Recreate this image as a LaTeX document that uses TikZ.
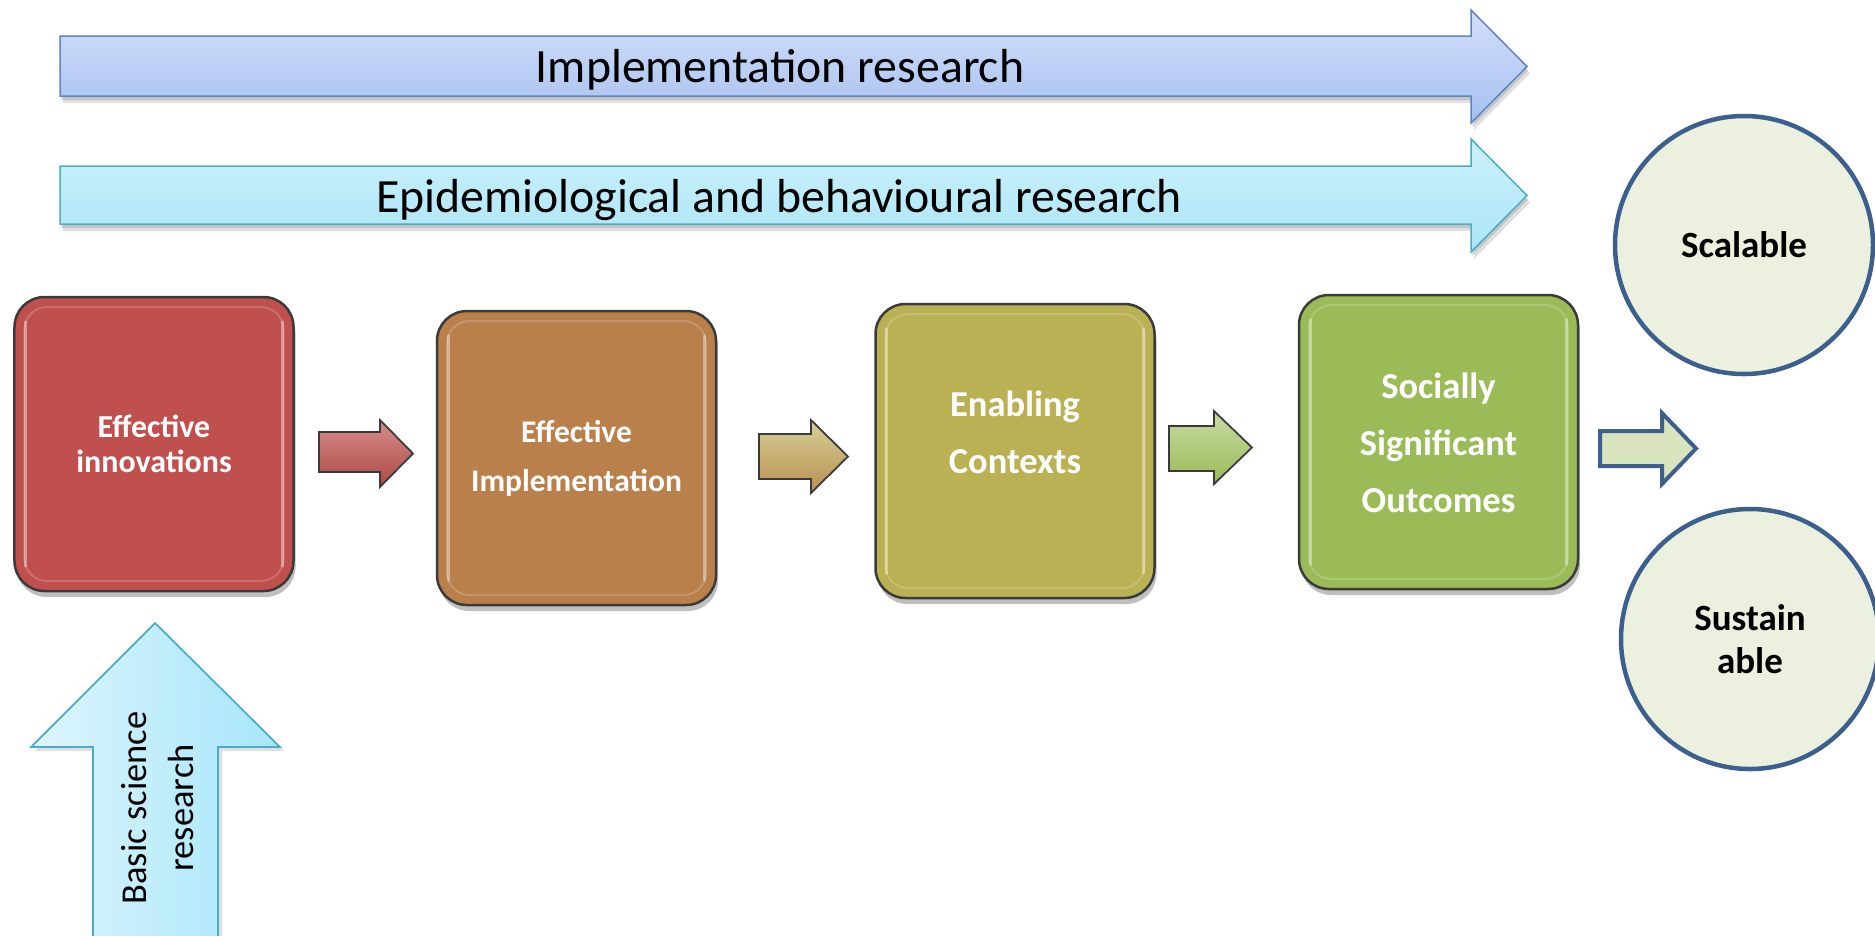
\documentclass[tikz,border=0pt]{standalone}
\usepackage{fontspec}
\setmainfont{Carlito}
\usetikzlibrary{shapes.geometric,shadows}
\definecolor{implTop}{HTML}{D3DFFA}
\definecolor{implBot}{HTML}{A6C0F0}
\definecolor{implBorder}{HTML}{5A85C8}
\definecolor{epiTop}{HTML}{CDF1FB}
\definecolor{epiBot}{HTML}{ABE5F7}
\definecolor{epiBorder}{HTML}{4BACC6}
\definecolor{basL}{HTML}{DDF5FD}
\definecolor{basR}{HTML}{A6E6FA}
\definecolor{boxA}{HTML}{C0504D}
\definecolor{boxB}{HTML}{B9804C}
\definecolor{boxC}{HTML}{BAB054}
\definecolor{boxD}{HTML}{9BBB59}
\definecolor{circFill}{HTML}{EBF1DE}
\definecolor{circBorder}{HTML}{3C5F8E}
\definecolor{arrD}{HTML}{D7E4BD}
\definecolor{edgeDark}{HTML}{3A3A3A}
% #1 style, #2 x left, #3 x head base, #4 x tip, #5 body top, #6 body bottom, #7 head top, #8 head bottom
\newcommand{\fatarr}[8]{%
  \path[#1] (#2,#5) -- (#3,#5) -- (#3,#7) -- (#4,{(#7+#8)/2}) -- (#3,#8) -- (#3,#6) -- (#2,#6) -- cycle;}
\begin{document}
\begin{tikzpicture}[x=0.4pt,y=-0.4pt,
  every node/.style={inner sep=0pt, outer sep=0pt},
  flowbox/.style={rectangle, rounded corners=12pt, minimum width=111.6pt, minimum height=117.6pt,
     draw=edgeDark, line width=1pt,
     drop shadow={shadow xshift=0.8pt, shadow yshift=-2.4pt, opacity=0.25, fill=black}},
  boxtxtS/.style={text=white, font=\bfseries\fontsize{12.6pt}{14pt}\selectfont, align=center},
  boxtxtL/.style={text=white, font=\bfseries\fontsize{14.6pt}{22.7pt}\selectfont, align=center},
  restxt/.style={text=black, font=\fontsize{19.1pt}{23pt}\selectfont},
  goal/.style={ellipse, fill=circFill, draw=circBorder, line width=1.8pt,
     text=black, font=\bfseries\fontsize{14.8pt}{17.2pt}\selectfont, align=center},
  shade1/.style={fill=black, opacity=0.12},
  gloss/.style={white, opacity=0.18, line width=0.8pt, rounded corners=9pt},
  glossline/.style={white, opacity=0.4, line width=1.3pt, line cap=round}]
\useasboundingbox (0,0) rectangle (1875,935);

% ---------- research arrows ----------
\begin{scope}[shift={(3,7)}]
  \fatarr{shade1}{60}{1471}{1527}{36}{96}{10}{123}
  \fatarr{shade1}{60}{1471}{1527}{166}{224}{139}{252}
\end{scope}
\begin{scope}[shift={(1,4)}]
  \fatarr{shade1}{60}{1471}{1527}{36}{96}{10}{123}
  \fatarr{shade1}{60}{1471}{1527}{166}{224}{139}{252}
\end{scope}
\fatarr{top color=implTop, bottom color=implBot, draw=implBorder, line width=0.6pt}{60}{1471}{1527}{36}{96}{10}{123}
\fatarr{top color=epiTop, bottom color=epiBot, draw=epiBorder, line width=0.6pt}{60}{1471}{1527}{166}{224}{139}{252}
\node[restxt] (impl) at (780,70) {Implementation research};
\node[restxt] (epi) at (779,200) {Epidemiological and behavioural research};

% ---------- basic science arrow ----------
\path[fill=black, opacity=0.12] (35,751) -- (97,751) -- (97,940) -- (222,940) -- (222,751) -- (284,751) -- (159,628) -- cycle;
\path[left color=basL, right color=basR, draw=epiBorder, line width=0.7pt]
  (31,747) -- (93,747) -- (93,940) -- (218,940) -- (218,747) -- (280,747) -- (155,623) -- cycle;
\node[rotate=90, text=black, font=\fontsize{14.6pt}{18.8pt}\selectfont, align=center] (basic) at (158,808) {Basic science\\research};

% ---------- boxes ----------
\node[flowbox, fill=boxA] (b1) at (154,444) {};
\node[flowbox, fill=boxB] (b2) at (576.5,458) {};
\node[flowbox, fill=boxC] (b3) at (1015,451) {};
\node[flowbox, fill=boxD] (b4) at (1438.5,442) {};
\foreach \b in {b1,b2,b3,b4}{
  \draw[gloss] ([shift={(4pt,4pt)}]\b.south west) rectangle ([shift={(-4pt,-4pt)}]\b.north east);
  \draw[glossline] ([shift={(4.5pt,10pt)}]\b.south west) -- ([shift={(4.5pt,-10pt)}]\b.north west);
  \draw[glossline] ([shift={(-4.5pt,10pt)}]\b.south east) -- ([shift={(-4.5pt,-10pt)}]\b.north east);
}
\node[boxtxtS, font=\bfseries\fontsize{12.8pt}{14pt}\selectfont] (t1) at (154,444) {Effective\\innovations};
\node[boxtxtS, font=\bfseries\fontsize{12.6pt}{19.6pt}\selectfont] (t2) at (576.5,458) {Effective\\Implementation};
\node[boxtxtL] (t3) at (1015,432) {Enabling\\Contexts};
\node[boxtxtL] (t4) at (1438.5,443) {Socially\\Significant\\Outcomes};

% ---------- small arrows between boxes ----------
\fatarr{top color=boxA!65!white, bottom color=boxA!90!black, draw=edgeDark, line width=0.7pt}{319}{380}{413}{432}{472}{420}{487}
\fatarr{top color=boxC!60!white, bottom color=boxB!70!boxC, draw=edgeDark, line width=0.7pt}{759}{811}{848}{434}{479}{420}{493}
\fatarr{top color=boxD!55!white, bottom color=boxD, draw=edgeDark, line width=0.7pt}{1169}{1214}{1252}{426}{471}{411}{484}
\fatarr{fill=arrD, draw=circBorder, line width=1.6pt}{1600}{1662}{1696}{431}{466}{413}{484}

% ---------- outcome ellipses ----------
\node[goal, minimum width=103.2pt, minimum height=103.2pt] (scal) at (1744,245) {Scalable};
\node[goal, minimum width=103.2pt, minimum height=104pt] (sust) at (1750,639) {Sustain\\able};
\end{tikzpicture}
\end{document}
